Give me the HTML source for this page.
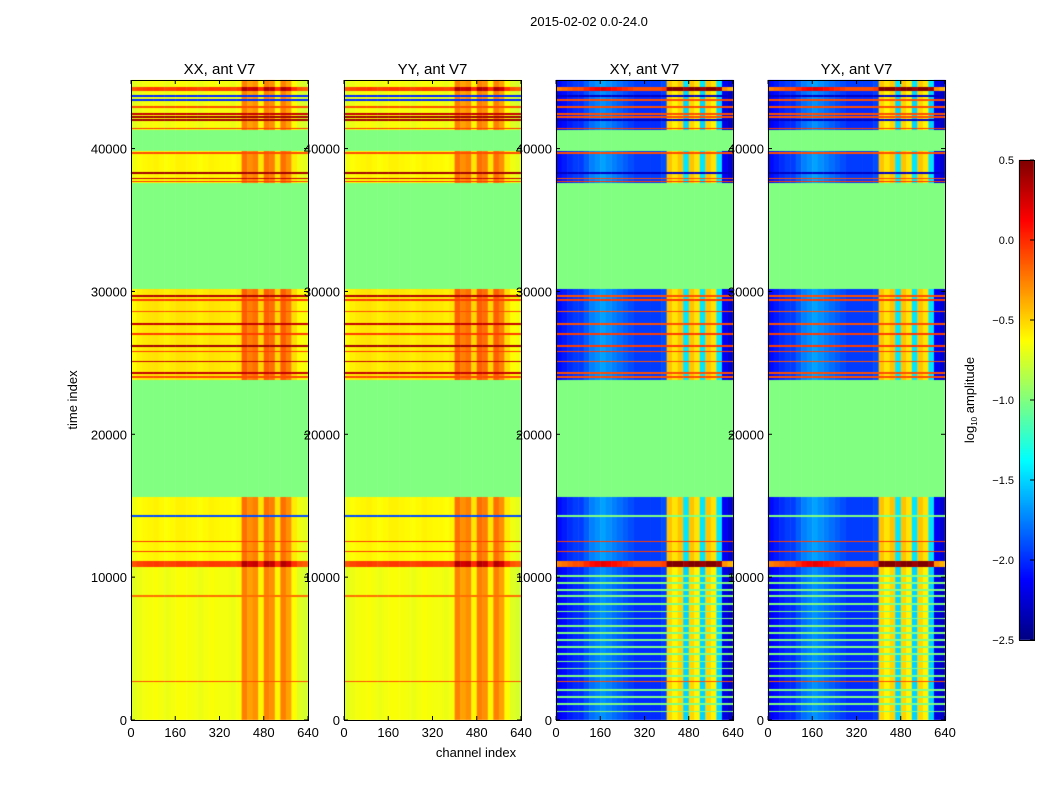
<!DOCTYPE html>
<html><head><meta charset="utf-8"><style>
body{margin:0;background:#fff;font-family:"Liberation Sans",sans-serif}
#wrap{position:relative;width:1050px;height:800px;overflow:hidden}
canvas{position:absolute;left:0;top:0}
</style></head><body>
<div id="wrap">
<canvas id="cv" width="1050" height="800"></canvas>
<svg id="sv" width="1050" height="800" style="position:absolute;left:0;top:0"></svg>
</div>
<script>
// ---- data ----
const panelTitles = ["XX, ant V7","YY, ant V7","XY, ant V7","YX, ant V7"];
const panelKind = ["par","par","cross","cross"];
const xTicks = [0,160,320,480,640];
const yTicks = [0,10000,20000,30000,40000];
const cbTicks = [0.5,0.0,-0.5,-1.0,-1.5,-2.0,-2.5];
// time segments: start, end, offset (null = flagged)
const segStart = [0,10700,11100,15600,23800,30200,37600,39800,41300,44000,44300];
const segEnd   = [10700,11100,15600,23800,30200,37600,39800,41300,44000,44300,44800];
const segOffPar   = [0,0.6,0.05,null,0.1,null,0.05,null,0.0,0.6,0.0];
const segOffCross = [0,1.9,0.05,null,0.05,null,0.05,null,0.0,1.9,0.05];
// channel block profiles (20-channel blocks)
const profPar = [-0.72,-0.68,-0.66,-0.65,-0.64,-0.66,-0.68,-0.66,-0.64,-0.64,-0.65,-0.66,-0.68,-0.66,-0.64,-0.65,-0.66,-0.66,-0.68,-0.65,
 -0.25,-0.35,-0.3,-0.6,-0.25,-0.3,-0.6,-0.25,-0.35,-0.62,-0.72,-0.75];
const profCross = [-2.15,-2.1,-2.05,-2.0,-2.0,-1.9,-1.8,-1.75,-1.7,-1.75,-1.8,-1.85,-1.9,-1.95,-2.0,-2.0,-2.0,-2.0,-2.0,-1.95,
 -0.5,-0.6,-0.5,-1.5,-0.5,-0.6,-1.5,-0.5,-0.6,-1.5,-2.2,-2.3];
// narrow stripes: time, par value, cross value
const stripeT = [2700,8700,11800,12500,14300,24000,24300,25100,25800,26200,27000,27700,28600,29400,29700,
 37700,37900,38300,39700,41400,42000,42200,42400,42900,43400,43700,
 600,1100,1600,2100,3100,3600,4100,4600,5100,5600,6100,6600,7100,7600,8100,9100,9600,10100];
const stripePar = [-0.1,-0.2,-0.05,-0.05,-1.9,-0.1,0.3,0.3,-0.05,0.4,-0.05,0.3,-0.1,-0.05,0.35,
 -0.05,0.3,0.4,-0.1,-0.05,0.4,0.4,0.3,-0.1,-2.0,-2.0,
 null,null,null,null,null,null,null,null,null,null,null,null,null,null,null,null,null,null];
const stripeCross = [-0.1,-1.0,-0.05,-0.05,-1.0,-0.1,-0.1,-0.1,-0.05,-0.05,-0.05,-0.1,-0.1,-0.05,-0.1,
 -0.05,-0.1,-2.3,-0.1,-0.05,-2.3,-0.1,-0.1,-0.1,-0.1,-2.3,
 -1.0,-1.0,-1.0,-1.0,-1.0,-1.0,-1.0,-1.0,-1.0,-1.0,-1.0,-1.0,-1.0,-1.0,-1.0,-1.0,-1.0,-1.0];

// ---- layout ----
const panelX = [131,344,556,768], PW = 177, PT = 80, PB = 720;
const tMax = 44800, chMax = 640, vmin=-2.5, vmax=0.5;
const yScale = t => PB - (t/tMax)*(PB-PT);
const xScale = (i,c) => panelX[i] + c/chMax*PW;
function jet(v){
  let x=(v-vmin)/(vmax-vmin); x=Math.max(0,Math.min(1,x));
  const f=(a)=>Math.max(0,Math.min(1,1.5-Math.abs(4*x-a)));
  return `rgb(${Math.round(255*f(3))},${Math.round(255*f(2))},${Math.round(255*f(1))})`;
}
const ctx=document.getElementById('cv').getContext('2d');
for(let p=0;p<4;p++){
  const cross=panelKind[p]==="cross", prof=cross?profCross:profPar;
  for(let py=PT;py<PB;py++){
    const t=(PB-py-0.5)/(PB-PT)*tMax;
    let s=0; while(s<segStart.length-1 && t>=segEnd[s]) s++;
    const off=cross?segOffCross[s]:segOffPar[s];
    let sv=null;
    for(let k=0;k<stripeT.length;k++){ if(Math.abs(t-stripeT[k])<60){ sv=cross?stripeCross[k]:stripePar[k]; if(sv!==null) break; } }
    for(let b=0;b<prof.length;b++){
      let v = off===null ? -1.0 : prof[b]+off;
      if(off!==null && sv!==null) v=sv;
      ctx.fillStyle=jet(v);
      const x0=xScale(p,b*20), x1=xScale(p,(b+1)*20);
      ctx.fillRect(x0,py,x1-x0+0.5,1);
    }
  }
}
// colorbar
for(let py=160;py<640;py++){ctx.fillStyle=jet(vmax-(py-160)/480*(vmax-vmin));ctx.fillRect(1019,py,15,1);}

// ---- svg overlay ----
const sv=document.getElementById('sv'), NS="http://www.w3.org/2000/svg";
function mk(tag,attrs,txt){const e=document.createElementNS(NS,tag);for(const k in attrs)e.setAttribute(k,attrs[k]);if(txt!==undefined)e.textContent=txt;sv.appendChild(e);return e;}
let e=mk('text',{x:589,y:26,'text-anchor':'middle','font-size':13},"2015-02-02 0.0-24.0");


for(let p=0;p<4;p++){
  e=mk('rect',{x:panelX[p]+0.5,y:PT+0.5,width:PW,height:PB-PT,fill:'none',stroke:'#000','stroke-width':1});
  
  
  e=mk('text',{x:panelX[p]+PW/2,y:74,'text-anchor':'middle','font-size':15},panelTitles[p]);
  
  
  xTicks.forEach(c=>{const x=xScale(p,c);
    mk('line',{x1:x,x2:x,y1:PB,y2:PB-4,stroke:'#000'});mk('line',{x1:x,x2:x,y1:PT,y2:PT+4,stroke:'#000'});
    e=mk('text',{x:x,y:737,'text-anchor':'middle','font-size':13},String(c));
    
    });
  yTicks.forEach(t=>{const y=yScale(t);
    mk('line',{x1:panelX[p],x2:panelX[p]+4,y1:y,y2:y,stroke:'#000'});mk('line',{x1:panelX[p]+PW,x2:panelX[p]+PW-4,y1:y,y2:y,stroke:'#000'});
    e=mk('text',{x:panelX[p]-4,y:y+5,'text-anchor':'end','font-size':13},String(t));
    
    });
}
e=mk('text',{x:476,y:757,'text-anchor':'middle','font-size':13},"channel index");


e=mk('text',{x:77,y:400,'text-anchor':'middle','font-size':13,transform:'rotate(-90 77 400)'},"time index");


e=mk('rect',{x:1019.5,y:160.5,width:15,height:480,fill:'none',stroke:'#000'});


cbTicks.forEach(v=>{const y=160+(vmax-v)/(vmax-vmin)*480;
  mk('line',{x1:1030,x2:1034,y1:y,y2:y,stroke:'#000'});
  e=mk('text',{x:1014,y:y+4,'text-anchor':'end','font-size':11},v.toFixed(1).replace('-','\u2212'));
  
  });
e=mk('text',{x:974,y:400,'text-anchor':'middle','font-size':13,transform:'rotate(-90 974 400)'});
e.innerHTML='log<tspan font-size="8" dy="3">10</tspan><tspan dy="-3"> amplitude</tspan>';


</script>
</body></html>
